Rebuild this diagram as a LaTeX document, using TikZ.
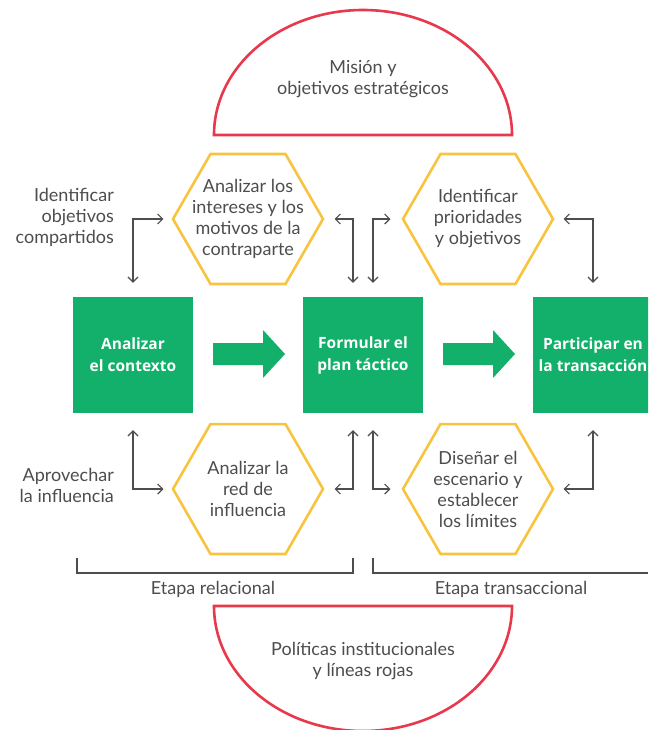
\documentclass[tikz,border=0pt]{standalone}
\usepackage{fontspec}
\setmainfont{Lato}
\newfontfamily\boxfont{Open Sans}
\usetikzlibrary{shapes.geometric,arrows.meta}
\definecolor{leaf}{RGB}{18,176,106}
\definecolor{honey}{RGB}{248,196,64}
\definecolor{crimson}{RGB}{232,56,76}
\definecolor{ink}{RGB}{77,77,77}
\tikzset{
  stage/.style={fill=leaf,minimum width=120pt,minimum height=116pt,inner sep=0pt,
    text=white,font=\boxfont\bfseries\fontsize{15.5}{22}\selectfont,align=center},
  hexa/.style={regular polygon,regular polygon sides=6,minimum size=150pt,
    inner sep=0pt,draw=honey,line width=2.6pt},
  label text/.style={text=ink,font=\fontsize{18}{21}\selectfont,align=center,inner sep=0pt},
  side text/.style={text=ink,font=\fontsize{18}{21}\selectfont,align=right,inner sep=0pt},
  link/.style={draw=ink,line width=1.2pt,{Straight Barb[length=5pt,width=10pt]}-{Straight Barb[length=5pt,width=10pt]}},
  brace/.style={draw=ink,line width=1.2pt},
  bowl/.style={draw=crimson,line width=2.6pt},
  flow/.style={fill=leaf},
}
\begin{document}
\begin{tikzpicture}[x=1pt,y=-1pt]
\useasboundingbox (0,0) rectangle (648,730);

% strategic frame above and institutional limits below
\draw[bowl] (214,135) arc[start angle=180,end angle=0,x radius=149pt,y radius=125pt] -- cycle;
\node[label text] (mission) at (363,79) {Misión y\\objetivos estratégicos};
\draw[bowl] (214,606) arc[start angle=180,end angle=360,x radius=149pt,y radius=125pt] -- cycle;
\node[label text] (policy) at (363,661) {Políticas institucionales\\y líneas rojas};

% the three stages
\begin{scope}
\clip (0,0) rectangle (648,730);
\node[stage] (b1) at (133,355) {Analizar\\el contexto};
\node[stage] (b2) at (363,355) {Formular el\\plan táctico};
\node[stage] (b3) at (593,355) {Participar en\\la transacción};
\end{scope}

% block arrows between stages
\fill[flow] (213,343) -- (263,343) -- (263,330) -- (285,354) -- (263,378) -- (263,365) -- (213,365) -- cycle;
\fill[flow] (443,343) -- (493,343) -- (493,330) -- (515,354) -- (493,378) -- (493,365) -- (443,365) -- cycle;

% supporting activities
\node[hexa] (h1) at (248,219) {};
\node[label text] (t1) at (h1) {Analizar los\\intereses y los\\motivos de la\\contraparte};
\node[hexa] (h2) at (478,219) {};
\node[label text] (t2) at (h2) {Identificar\\prioridades\\y objetivos};
\node[hexa] (h3) at (248,489) {};
\node[label text] (t3) at (h3) {Analizar la\\red de\\influencia};
\node[hexa] (h4) at (478,489) {};
\node[label text] (t4) at (h4) {Diseñar el\\escenario y\\establecer\\los límites};

% side notes
\node[side text,anchor=east] (n1) at (114,217) {Identificar\\objetivos\\compartidos};
\node[side text,anchor=east] (n2) at (114,485) {Aprovechar\\la influencia};

% two-way links between stages and activities
\draw[link] ([xshift=-8pt]h1.west) -| ([yshift=14pt]b1.north);
\draw[link] ([xshift=10pt]h1.east) -| ([xshift=-10pt,yshift=14pt]b2.north);
\draw[link] ([xshift=-11pt]h2.west) -| ([xshift=10pt,yshift=14pt]b2.north);
\draw[link] ([xshift=9pt]h2.east) -| ([yshift=14pt]b3.north);
\draw[link] ([xshift=-8pt]h3.west) -| ([yshift=-17pt]b1.south);
\draw[link] ([xshift=10pt]h3.east) -| ([xshift=-10pt,yshift=-17pt]b2.south);
\draw[link] ([xshift=-11pt]h4.west) -| ([xshift=10pt,yshift=-17pt]b2.south);
\draw[link] ([xshift=9pt]h4.east) -| ([yshift=-17pt]b3.south);

% phase brackets
\draw[brace] (77,558) |- (353,573) -- (353,558);
\draw[brace] (373,558) |- (648,573);
\node[label text] (p1) at (213,589) {Etapa relacional};
\node[label text] (p2) at (511,589) {Etapa transaccional};
\end{tikzpicture}
\end{document}
